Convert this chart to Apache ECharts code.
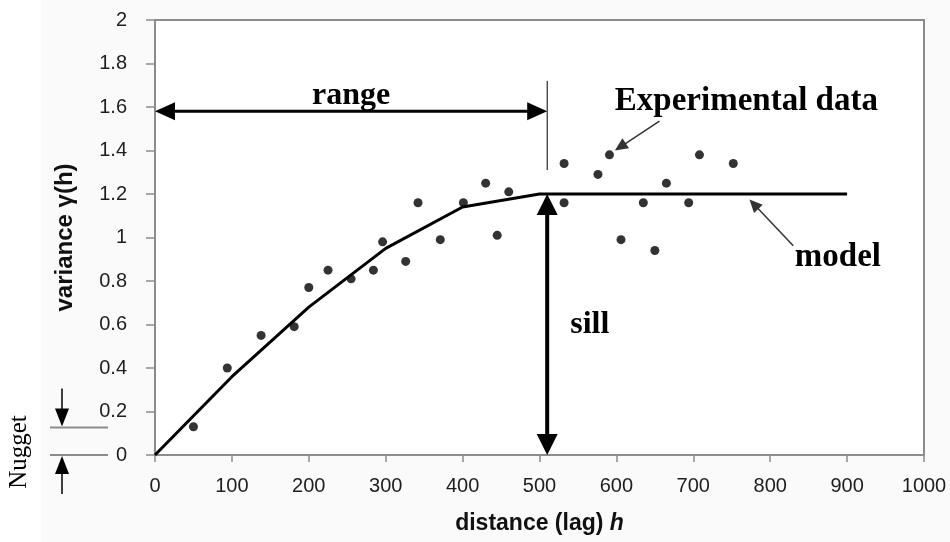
<!DOCTYPE html>
<html>
<head>
<meta charset="utf-8">
<script src="https://cdn.jsdelivr.net/npm/echarts@6/dist/echarts.min.js"></script>
<style>
  html, body { margin: 0; padding: 0; background: #fafafa; }
  #chart { width: 950px; height: 542px; }
</style>
</head>
<body>
<div id="chart"></div>
<script>
// Experimental semivariogram points: lag distance h and variance gamma(h)
const lagPoints = [50, 94, 138, 181, 200, 225, 255, 284, 296, 326, 342, 371, 401, 430, 445, 460, 532, 532, 576, 591, 606, 635, 650, 665, 694, 708, 752];
const gammaPoints = [0.13, 0.40, 0.55, 0.59, 0.77, 0.85, 0.81, 0.85, 0.98, 0.89, 1.16, 0.99, 1.16, 1.25, 1.01, 1.21, 1.34, 1.16, 1.29, 1.38, 0.99, 1.16, 0.94, 1.25, 1.16, 1.38, 1.34];

// Fitted model curve
const modelLag = [0, 100, 200, 300, 400, 500, 600, 700, 800, 900];
const modelGamma = [0, 0.36, 0.68, 0.95, 1.14, 1.2, 1.2, 1.2, 1.2, 1.2];

// Model parameters shown by the annotations
const rangeLag = 510;
const sillValue = 1.2;
const nuggetValue = 0.126;

const xTicks = { min: 0, max: 1000, interval: 100 };
const yTicks = { min: 0, max: 2, interval: 0.2 };

const SANS = "'Liberation Sans', Arial, Helvetica, sans-serif";
const SERIF = "'Liberation Serif', 'Times New Roman', serif";
const AXIS_GRAY = '#8c8c8c';

const chart = echarts.init(document.getElementById('chart'), null, { renderer: 'canvas' });

chart.setOption({
  backgroundColor: '#fafafa',
  animation: false,
  grid: {
    left: 155, right: 26, top: 20, bottom: 87,
    show: true, backgroundColor: '#ffffff',
    borderColor: AXIS_GRAY, borderWidth: 2
  },
  xAxis: {
    type: 'value',
    min: xTicks.min, max: xTicks.max, interval: xTicks.interval,
    axisLine: { lineStyle: { color: AXIS_GRAY, width: 2 } },
    axisTick: { length: 7, lineStyle: { color: AXIS_GRAY, width: 1.5 } },
    axisLabel: { margin: 21, color: '#1e1e1e', fontFamily: SANS, fontSize: 20, formatter: v => String(v) },
    splitLine: { show: false },
    name: 'distance (lag) {it|h}',
    nameLocation: 'middle',
    nameGap: 57,
    nameTextStyle: {
      fontFamily: SANS, fontSize: 23, fontWeight: 'bold', color: '#111',
      rich: { it: { fontFamily: SANS, fontSize: 23, fontWeight: 'bold', fontStyle: 'italic', color: '#111' } }
    }
  },
  yAxis: {
    type: 'value',
    min: yTicks.min, max: yTicks.max, interval: yTicks.interval,
    axisLine: { show: true, lineStyle: { color: AXIS_GRAY, width: 2 } },
    axisTick: { show: true, length: 9, lineStyle: { color: AXIS_GRAY, width: 1.5 } },
    axisLabel: { margin: 28, color: '#1e1e1e', fontFamily: SANS, fontSize: 20, formatter: v => String(v) },
    splitLine: { show: false },
    name: 'variance γ(h)',
    nameLocation: 'middle',
    nameGap: 78,
    nameTextStyle: { fontFamily: SANS, fontSize: 24, fontWeight: 'bold', color: '#111' }
  },
  series: [
    {
      name: 'model',
      type: 'line',
      data: modelLag.map((h, i) => [h, modelGamma[i]]),
      showSymbol: false,
      lineStyle: { color: '#000', width: 3 },
      z: 3
    },
    {
      name: 'Experimental data',
      type: 'scatter',
      data: lagPoints.map((h, i) => [h, gammaPoints[i]]),
      symbol: 'circle',
      symbolSize: 9,
      itemStyle: { color: '#000' },
      z: 4
    }
  ]
});

// ---- annotations, placed in data space and converted to pixels ----
const px = (x, y) => chart.convertToPixel({ gridIndex: 0 }, [x, y]);

function head(tip, from, len, halfW, color) {
  const dx = tip[0] - from[0], dy = tip[1] - from[1];
  const d = Math.hypot(dx, dy) || 1;
  const ux = dx / d, uy = dy / d;
  const bx = tip[0] - ux * len, by = tip[1] - uy * len;
  return {
    type: 'polygon', z: 50,
    shape: { points: [tip, [bx - uy * halfW, by + ux * halfW], [bx + uy * halfW, by - ux * halfW]] },
    style: { fill: color }
  };
}

function arrow(a, b, opt) {
  const els = [];
  const dx = b[0] - a[0], dy = b[1] - a[1];
  const d = Math.hypot(dx, dy) || 1;
  const ux = dx / d, uy = dy / d;
  const s = opt.startHead ? [a[0] + ux * opt.len * 0.8, a[1] + uy * opt.len * 0.8] : a;
  const e = opt.endHead ? [b[0] - ux * opt.len * 0.8, b[1] - uy * opt.len * 0.8] : b;
  els.push({
    type: 'line', z: 49,
    shape: { x1: s[0], y1: s[1], x2: e[0], y2: e[1] },
    style: { stroke: opt.color, lineWidth: opt.width }
  });
  if (opt.startHead) els.push(head(a, b, opt.len, opt.halfW, opt.color));
  if (opt.endHead) els.push(head(b, a, opt.len, opt.halfW, opt.color));
  return els;
}

function label(text, at, font, align) {
  return {
    type: 'text', z: 60,
    x: at[0], y: at[1],
    style: { text, font, fill: '#000', align: align || 'left', verticalAlign: 'middle' }
  };
}

const origin = px(0, 0);
const rangeY = 1.58;
const els = [];

// white strip on the far left
els.push({ type: 'rect', z: -1, shape: { x: 0, y: 0, width: 41, height: 542 }, style: { fill: '#ffffff' } });

// range arrow and its marker line
els.push(...arrow(px(0, rangeY), px(rangeLag, rangeY), { startHead: true, endHead: true, color: '#000', width: 3, len: 20, halfW: 9 }));
const tickTop = px(rangeLag, 1.72), tickBot = px(rangeLag, 1.31);
els.push({ type: 'line', z: 49, shape: { x1: tickTop[0], y1: tickTop[1], x2: tickBot[0], y2: tickBot[1] }, style: { stroke: '#000', lineWidth: 1 } });
els.push(label('range', px(255, 1.65), 'bold 32px ' + SERIF, 'center'));

// sill arrow
els.push(...arrow(px(rangeLag, sillValue), px(rangeLag, 0), { startHead: true, endHead: true, color: '#000', width: 4, len: 21, halfW: 10.5 }));
els.push(label('sill', px(540, 0.6), 'bold 32px ' + SERIF, 'left'));

// experimental data pointer
els.push(...arrow(px(656, 1.535), px(598, 1.40), { endHead: true, color: '#333', width: 1.5, len: 13, halfW: 6 }));
els.push(label('Experimental data', px(598, 1.625), 'bold 33px ' + SERIF, 'left'));

// model pointer
els.push(...arrow(px(830, 0.962), px(773, 1.175), { endHead: true, color: '#333', width: 1.5, len: 13, halfW: 6 }));
els.push(label('model', px(832, 0.91), 'bold 33px ' + SERIF, 'left'));

// nugget bracket to the left of the axis
const nugTop = px(0, nuggetValue)[1];
const nugBot = origin[1];
const nx1 = 50, nx2 = 108, ax = 62;
els.push({ type: 'line', z: 49, shape: { x1: nx1, y1: nugTop, x2: nx2, y2: nugTop }, style: { stroke: '#8c8c8c', lineWidth: 2 } });
els.push({ type: 'line', z: 49, shape: { x1: nx1, y1: nugBot, x2: nx2, y2: nugBot }, style: { stroke: '#8c8c8c', lineWidth: 2 } });
els.push(...arrow([ax, nugTop - 39], [ax, nugTop - 1], { endHead: true, color: '#000', width: 1.5, len: 18, halfW: 7 }));
els.push(...arrow([ax, nugBot + 39], [ax, nugBot + 1], { endHead: true, color: '#000', width: 1.5, len: 18, halfW: 7 }));
els.push({
  type: 'text', z: 60,
  x: 19, y: nugBot - 3, rotation: Math.PI / 2,
  style: { text: 'Nugget', font: '25px ' + SERIF, fill: '#000', align: 'center', verticalAlign: 'middle' }
});

chart.setOption({ graphic: { elements: els } });
</script>
</body>
</html>
